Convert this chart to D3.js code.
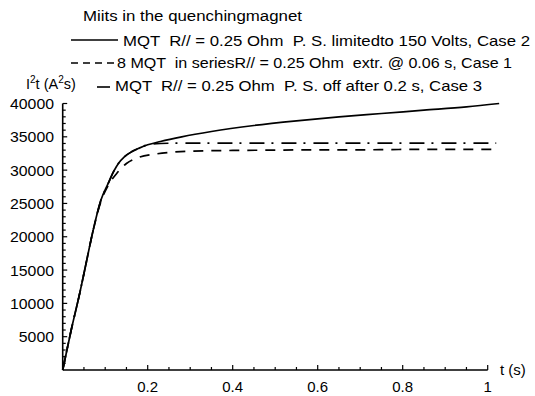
<!DOCTYPE html>
<html>
<head>
<meta charset="utf-8">
<script src="https://cdn.jsdelivr.net/npm/d3@7"></script>
<style>
  body { margin: 0; background: #fff; }
  text { font-family: "Liberation Sans", Arial, sans-serif; fill: #000; white-space: pre; }
</style>
</head>
<body>
<div id="mainContainer"></div>
<script>
'use strict';

var svgWidth = 535,
    svgHeight = 396;

// values
var tCase2 = [0, 0.02, 0.04, 0.055, 0.07, 0.09, 0.107, 0.12, 0.131, 0.145, 0.162, 0.18, 0.2, 0.23, 0.28, 0.35, 0.45, 0.55, 0.65, 0.75, 0.85, 0.95, 1.027];
var iCase2 = [0, 6000, 11500, 16000, 20500, 25500, 28000, 29800, 31000, 32000, 32750, 33300, 33800, 34300, 35000, 35800, 36700, 37400, 38000, 38500, 39000, 39500, 40000];

var tCase1 = [0, 0.02, 0.04, 0.055, 0.07, 0.09, 0.107, 0.127, 0.15, 0.178, 0.217, 0.26, 0.3, 0.4, 0.5, 0.6, 0.7, 0.8, 0.9, 1.025];
var iCase1 = [0, 6000, 11500, 16000, 20500, 25300, 27700, 29500, 31000, 31900, 32400, 32700, 32850, 32950, 33000, 33050, 33050, 33100, 33100, 33100];

var tCase3 = [0, 0.02, 0.04, 0.055, 0.07, 0.09, 0.107, 0.12, 0.131, 0.145, 0.162, 0.18, 0.2, 0.23, 0.27, 0.35, 0.5, 0.7, 0.9, 1.02];
var iCase3 = [0, 6000, 11500, 16000, 20500, 25500, 28000, 29800, 31000, 32000, 32750, 33300, 33800, 34000, 34050, 34050, 34050, 34050, 34050, 34050];

var xTicks = [0.2, 0.4, 0.6, 0.8, 1];
var yTicks = [5000, 10000, 15000, 20000, 25000, 30000, 35000, 40000];

var legendTitle = 'Miits in the quenchingmagnet';
var legendLabels = [
    'MQT  R// = 0.25 Ohm  P. S. limitedto 150 Volts, Case 2',
    '8 MQT  in seriesR// = 0.25 Ohm  extr. @ 0.06 s, Case 1',
    'MQT  R// = 0.25 Ohm  P. S. off after 0.2 s, Case 3'
];

var svg = d3.select('#mainContainer')
    .append('svg')
    .attr('width', svgWidth)
    .attr('height', svgHeight);

var x = d3.scaleLinear().domain([0, 1]).range([62.7, 487.7]);
var y = d3.scaleLinear().domain([0, 40000]).range([370, 103.5]);

// y axis, ticks pointing inwards
svg.append('line')
    .attr('x1', x(0)).attr('x2', x(0))
    .attr('y1', y(0)).attr('y2', y(40000))
    .attr('stroke', '#000').attr('stroke-width', 1.6);

svg.selectAll('.ytick')
    .data(d3.range(1000, 40001, 1000))
    .enter().append('line')
    .attr('x1', x(0))
    .attr('x2', function (d) { return x(0) + (d % 5000 === 0 ? 4.5 : 3); })
    .attr('y1', function (d) { return y(d); })
    .attr('y2', function (d) { return y(d); })
    .attr('stroke', '#000').attr('stroke-width', 1.2);

svg.selectAll('.ylabel')
    .data(yTicks)
    .enter().append('text')
    .attr('x', 54)
    .attr('y', function (d) { return y(d) + 5.5; })
    .attr('text-anchor', 'end')
    .attr('textLength', function (d) { return String(d).length * 8.8; })
    .attr('lengthAdjust', 'spacingAndGlyphs')
    .style('font-size', '15px')
    .text(function (d) { return d; });

// x axis, ticks pointing up
svg.append('line')
    .attr('x1', x(0)).attr('x2', x(1))
    .attr('y1', y(0)).attr('y2', y(0))
    .attr('stroke', '#000').attr('stroke-width', 1.6);

svg.selectAll('.xtick')
    .data(d3.range(1, 21))
    .enter().append('line')
    .attr('x1', function (d) { return x(d / 20); })
    .attr('x2', function (d) { return x(d / 20); })
    .attr('y1', y(0))
    .attr('y2', function (d) { return y(0) - (d % 4 === 0 ? 5 : 3); })
    .attr('stroke', '#000').attr('stroke-width', 1.2);

svg.selectAll('.xlabel')
    .data(xTicks)
    .enter().append('text')
    .attr('x', function (d) { return x(d); })
    .attr('y', 392)
    .attr('text-anchor', 'middle')
    .style('font-size', '15px')
    .text(function (d) { return d; });

svg.append('text')
    .attr('x', 500).attr('y', 375)
    .style('font-size', '15px')
    .text('t (s)');

// y axis title  I²t (A²s)
var yt = svg.append('text')
    .attr('x', 26).attr('y', 89)
    .style('font-size', '14.5px');
yt.append('tspan').text('I');
yt.append('tspan').attr('dy', -6).style('font-size', '10px').text('2');
yt.append('tspan').attr('dy', 6).text('t (A');
yt.append('tspan').attr('dy', -6).style('font-size', '10px').text('2');
yt.append('tspan').attr('dy', 6).text('s)');

// curves
var line = d3.line()
    .x(function (d) { return x(d[0]); })
    .y(function (d) { return y(d[1]); })
    .curve(d3.curveMonotoneX);

function pairs(ts, vs) {
    return ts.map(function (t, i) { return [t, vs[i]]; });
}

var series = [
    { data: pairs(tCase3, iCase3), dash: '15,7,2,8' },
    { data: pairs(tCase1, iCase1), dash: '10,8' },
    { data: pairs(tCase2, iCase2), dash: null }
];

series.forEach(function (s) {
    svg.append('path')
        .attr('d', line(s.data))
        .attr('fill', 'none')
        .attr('stroke', '#000')
        .attr('stroke-width', 1.7)
        .attr('stroke-dasharray', s.dash);
});

// legend
svg.append('text')
    .attr('x', 83).attr('y', 21)
    .attr('textLength', 219).attr('lengthAdjust', 'spacingAndGlyphs')
    .style('font-size', '14px')
    .text(legendTitle);

var legendRows = [
    { x1: 71, x2: 118, y: 40, dash: null, tx: 123, ty: 46, w: 407 },
    { x1: 71, x2: 115, y: 63, dash: '7,5', tx: 117, ty: 68, w: 395 },
    { x1: 97, x2: 110, y: 87, dash: null, tx: 115, ty: 91, w: 367 }
];

legendRows.forEach(function (r, i) {
    svg.append('line')
        .attr('x1', r.x1).attr('x2', r.x2)
        .attr('y1', r.y).attr('y2', r.y)
        .attr('stroke', '#000').attr('stroke-width', 1.6)
        .attr('stroke-dasharray', r.dash);
    svg.append('text')
        .attr('x', r.tx).attr('y', r.ty)
        .attr('textLength', r.w).attr('lengthAdjust', 'spacingAndGlyphs')
        .style('font-size', '15px')
        .text(legendLabels[i]);
});
</script>
</body>
</html>
